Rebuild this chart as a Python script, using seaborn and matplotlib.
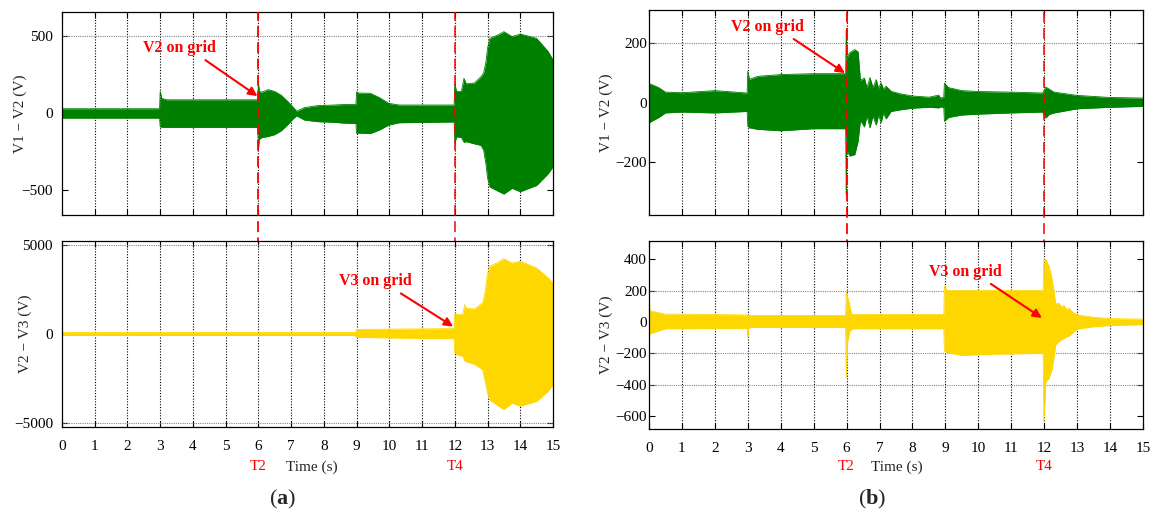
import numpy as np
import pandas as pd
import seaborn as sns
import matplotlib
matplotlib.use("Agg")
import matplotlib.pyplot as plt
import matplotlib.transforms as mtransforms

# ---------------- data (envelopes) ----------------
# (a) top: V1 - V2 (V)
t_a1 = [0, 2.98, 3.0, 3.05, 3.2, 5.98, 6.0, 6.03, 6.1, 6.3, 6.5, 6.7, 6.9, 7.05, 7.17,
        7.4, 7.8, 8.3, 8.6, 8.98, 9.0, 9.05, 9.42, 9.7, 9.98, 10.3, 11.98, 12.0, 12.05,
        12.2, 12.28, 12.35, 12.6, 12.8, 12.88, 12.95, 13.0, 13.07, 13.3, 13.5, 13.75,
        14.0, 14.5, 14.85, 15.0]
up_a1 = [28, 28, 140, 95, 86, 86, 197, 140, 135, 152, 140, 115, 75, 40, 12,
         35, 48, 52, 55, 55, 138, 130, 128, 100, 63, 52, 52, 195, 140,
         140, 225, 190, 195, 236, 260, 330, 420, 485, 505, 528, 496,
         513, 485, 400, 345]
lo_a1 = [-33, -33, -90, -92, -93, -93, -235, -170, -160, -152, -140, -115, -75, -40, -18,
         -45, -56, -60, -65, -68, -132, -130, -133, -110, -78, -63, -58, -200, -155,
         -158, -190, -186, -200, -210, -240, -330, -420, -480, -505, -526, -489,
         -511, -470, -395, -350]

# (a) bottom: V2 - V3 (V)
t_a2 = [0, 5.95, 6.0, 6.05, 8.95, 9.0, 10.5, 11.98, 12.0, 12.05, 12.25, 12.3, 12.35,
        12.6, 12.85, 12.92, 13.0, 13.07, 13.3, 13.5, 13.75, 14.0, 14.5, 14.85, 15.0]
up_a2 = [80, 80, 120, 80, 80, 250, 280, 300, 1150, 1100, 1120, 1650, 1450,
         1400, 1750, 2300, 3400, 3800, 4000, 4220, 3980, 4080, 3700, 3150, 2850]
lo_a2 = [-80, -80, -100, -80, -80, -190, -230, -260, -1050, -1150, -1250, -1500, -1550,
         -1700, -2000, -2600, -3300, -3700, -4000, -4240, -3870, -4050, -3780, -3220, -2850]

# (b) top: V1 - V2 (V)
t_b1 = [0, 0.05, 0.3, 0.5, 1.0, 2.0, 2.98, 3.0, 3.05, 3.3, 4.0, 5.0, 5.97, 5.99, 6.0,
        6.01, 6.03, 6.1, 6.25, 6.35, 6.42, 6.54, 6.62, 6.71, 6.8, 6.9, 6.97, 7.05,
        7.12, 7.2, 7.35, 7.6, 8.0, 8.5, 8.8, 8.85, 8.95, 8.97, 9.1, 9.5, 10.0, 11.0,
        11.95, 12.05, 12.15, 12.3, 13.0, 14.0, 15.0]
up_b1 = [60, 62, 50, 35, 33, 40, 32, 105, 78, 88, 94, 97, 97, 245, 160,
         150, 155, 168, 178, 170, 75, 82, 50, 84, 50, 77, 48, 66,
         45, 55, 38, 30, 22, 18, 25, 15, 18, 65, 50, 40, 37, 35,
         32, 52, 45, 35, 24, 17, 15]
lo_b1 = [-70, -65, -50, -35, -32, -35, -30, -80, -85, -90, -95, -88, -88, -310, -170,
         -150, -165, -180, -175, -130, -60, -82, -45, -85, -45, -76, -42, -68,
         -35, -55, -30, -25, -19, -16, -18, -15, -16, -63, -50, -42, -39, -35,
         -32, -52, -40, -35, -21, -16, -13]

# (b) bottom: V2 - V3 (V)
t_b2 = [0, 0.03, 0.1, 0.5, 1.0, 2.98, 3.0, 3.02, 3.1, 5.97, 5.99, 6.03, 6.1, 6.15,
        6.3, 8.95, 8.97, 9.05, 9.5, 10.5, 11.97, 11.99, 12.05, 12.15, 12.25, 12.35,
        12.45, 12.52, 12.6, 12.68, 12.76, 12.85, 13.0, 13.5, 14.0, 15.0]
up_b2 = [145, 70, 68, 50, 50, 45, 42, 42, 42, 42, 196, 160, 100, 48,
         48, 48, 230, 200, 200, 202, 200, 395, 400, 355, 260, 115,
         120, 95, 105, 80, 88, 65, 45, 30, 22, 18]
lo_b2 = [-90, -75, -70, -43, -43, -40, -100, -40, -34, -34, -357, -125, -60, -45,
         -43, -43, -185, -195, -213, -205, -200, -640, -380, -360, -294, -145,
         -125, -115, -105, -95, -90, -72, -45, -30, -22, -17]

time_ticks = list(range(16))
yticks_a1 = [-500, 0, 500]
yticks_a2 = [-5000, 0, 5000]
yticks_b1 = [-200, 0, 200]
yticks_b2 = [-600, -400, -200, 0, 200, 400]
hgrid_a1 = [500]
hgrid_a2 = [-5000, 5000]
hgrid_b1 = [200]
hgrid_b2 = [200, -200, -400]
events = [6, 12]

GREEN = "#008000"
YELLOW = "#FFD700"

# ---------------- style ----------------
sns.set_theme(style="ticks")
plt.rcParams['font.family'] = ['Liberation Serif', 'DejaVu Serif']
plt.rcParams['mathtext.fontset'] = 'custom'
plt.rcParams['mathtext.rm'] = 'Liberation Serif'
plt.rcParams['mathtext.bf'] = 'Liberation Serif:bold'
plt.rcParams['axes.unicode_minus'] = True

W, H = 1160, 516
fig = plt.figure(figsize=(W / 100, H / 100), dpi=100)


def px_axes(x0, y0, x1, y1):
    return fig.add_axes([x0 / W, 1 - y1 / H, (x1 - x0) / W, (y1 - y0) / H])


ax_a1 = px_axes(62, 12, 553, 215)
ax_a2 = px_axes(62, 241, 553, 427)
ax_b1 = px_axes(649, 10, 1143, 215)
ax_b2 = px_axes(649, 241, 1143, 429)

panels = [
    (ax_a1, t_a1, up_a1, lo_a1, GREEN, (-662, 656), yticks_a1, hgrid_a1, "V1 − V2 (V)", -0.071, 6.5),
    (ax_a2, t_a2, up_a2, lo_a2, YELLOW, (-5216, 5216), yticks_a2, hgrid_a2, "V2 − V3 (V)", -0.061, 6.5),
    (ax_b1, t_b1, up_b1, lo_b1, GREEN, (-378, 311), yticks_b1, hgrid_b1, "V1 − V2 (V)", -0.073, 1.5),
    (ax_b2, t_b2, up_b2, lo_b2, YELLOW, (-683, 517), yticks_b2, hgrid_b2, "V2 − V3 (V)", -0.073, 1.5),
]

for ax, t, up, lo, col, ylim, yt, hg, ylab, labx, ypad in panels:
    df = pd.DataFrame({"t": t, "up": up, "lo": lo})
    ax.fill_between(df["t"], df["lo"], df["up"], color=col, lw=0, zorder=2)
    sns.lineplot(data=df, x="t", y="up", ax=ax, color=col, lw=0.6, zorder=2)
    sns.lineplot(data=df, x="t", y="lo", ax=ax, color=col, lw=0.6, zorder=2)
    ax.set_xlim(0, 15)
    ax.set_ylim(*ylim)
    ax.set_xticks(time_ticks)
    ax.set_yticks(yt)
    for x in time_ticks[1:-1]:
        ax.axvline(x, color="black", ls=(0, (1, 1.5)), lw=0.8, zorder=1)
    for y in hg:
        ax.axhline(y, color="#888888", ls=(0, (1, 1)), lw=0.8, zorder=1)
    ax.tick_params(direction="in", top=True, right=True, length=4, width=0.8,
                   labelsize=11, colors="black")
    ax.tick_params(axis="y", pad=ypad)
    ax.tick_params(axis="x", pad=9)
    for s in ax.spines.values():
        s.set_color("black")
        s.set_linewidth(0.9)
    ax.set_ylabel(ylab, fontsize=11)
    ax.yaxis.set_label_coords(labx, 0.5)
    ax.set_xlabel("")
    ax.set_facecolor("white")

for ax in (ax_a1, ax_b1):
    ax.tick_params(labelbottom=False)

# event lines spanning both rows
for top_ax, y_top, y_bot in ((ax_a1, 12, 427), (ax_b1, 10, 429)):
    tr = mtransforms.blended_transform_factory(top_ax.transData, fig.transFigure)
    for e, alpha in zip(events, (1.0, 0.85)):
        top_ax.plot([e, e], [1 - y_bot / H, 1 - y_top / H], transform=tr, clip_on=False,
                    color="red", lw=1.3, ls=(0, (6, 3)), alpha=alpha, zorder=5)

# annotations
arrow = dict(arrowstyle="-|>", color="red", lw=1.5, mutation_scale=13,
             shrinkA=1, shrinkB=0, relpos=(0.77, 0.0))
ann = dict(ha="center", va="center", color="red", fontsize=11.5, fontweight="bold",
           arrowprops=arrow, zorder=6)
ax_a1.annotate("V2 on grid", xy=(5.97, 110), xytext=(3.6, 422), **ann)
ax_a2.annotate("V3 on grid", xy=(11.95, 420), xytext=(9.56, 2950), **ann)
ax_b1.annotate("V2 on grid", xy=(5.95, 99), xytext=(3.61, 254), **ann)
ax_b2.annotate("V3 on grid", xy=(11.93, 26), xytext=(9.6, 320), **ann)

# bottom labels
for ax, tx in ((ax_a2, 312), (ax_b2, 897)):
    tr = mtransforms.blended_transform_factory(ax.transData, fig.transFigure)
    ax.text(6, 1 - 467 / H, "T2", transform=tr, color="red", fontsize=11, ha="center", va="center")
    ax.text(12, 1 - 467 / H, "T4", transform=tr, color="red", fontsize=11, ha="center", va="center")
    fig.text(tx / W, 1 - 467 / H, "Time (s)", fontsize=11, ha="center", va="center")

fig.text(283 / W, 1 - 499 / H, r"($\mathbf{a}$)", fontsize=16, ha="center", va="center")
fig.text(872 / W, 1 - 499 / H, r"($\mathbf{b}$)", fontsize=16, ha="center", va="center")

fig.savefig("out.png", dpi=100, facecolor="white")
